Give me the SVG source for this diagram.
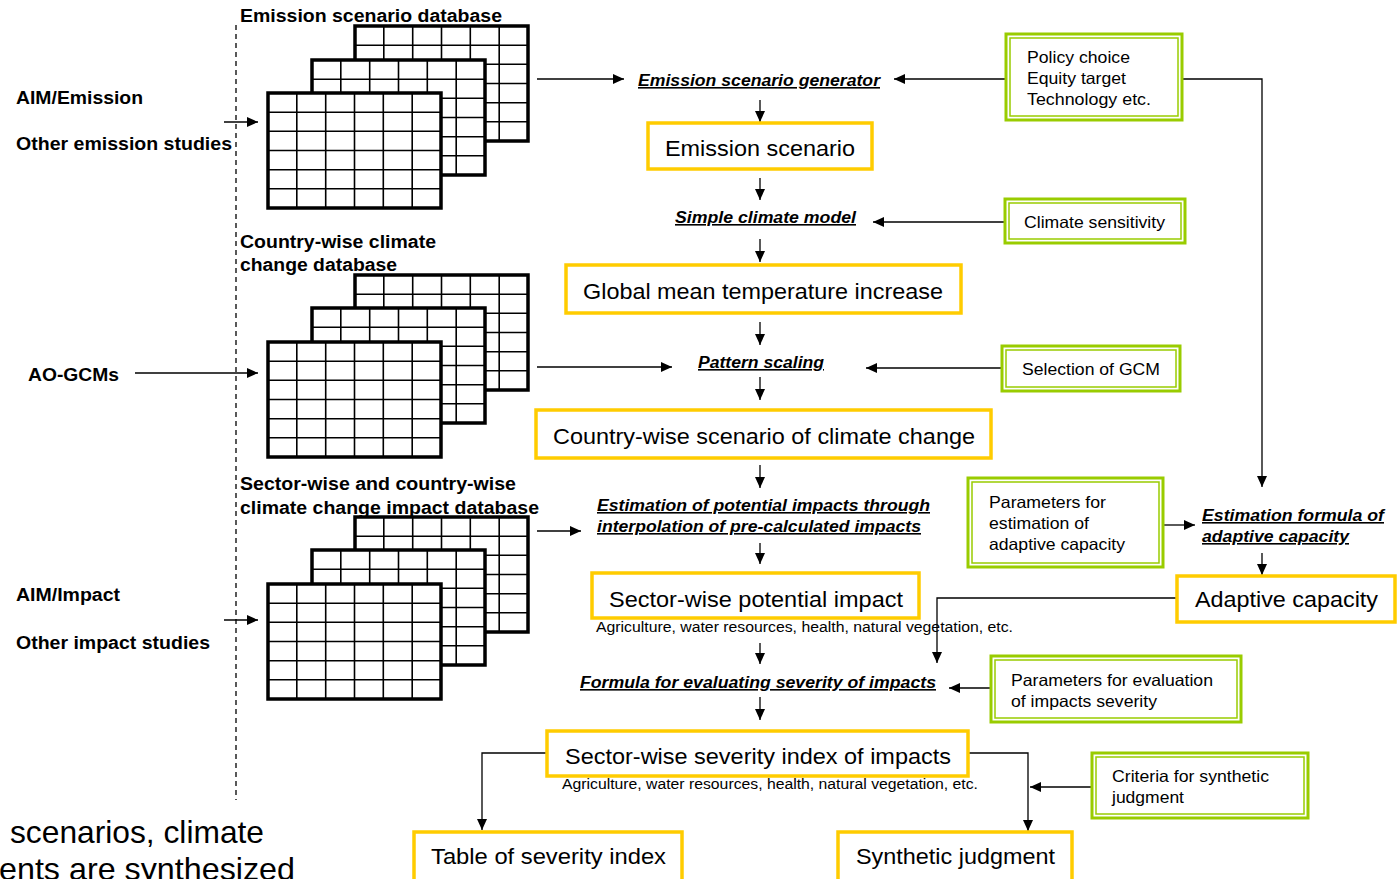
<svg xmlns="http://www.w3.org/2000/svg" width="1399" height="879" viewBox="0 0 1399 879">
<style>
text{font-family:"Liberation Sans",Arial,sans-serif;fill:#000}
.lb{font-weight:bold;font-size:17.5px}
.it{font-weight:bold;font-style:italic;font-size:16px;text-decoration:underline}
.yt{font-size:22px}
.gt{font-size:16.5px}
.sm{font-size:14px}
.big{font-size:32px}
.ybox{fill:#fff;stroke:#ffcc00;stroke-width:3.5}
.go{fill:#fff;stroke:#99cc00;stroke-width:3}
.gi{fill:none;stroke:#99cc00;stroke-width:1.5}
.cn{fill:none;stroke:#000;stroke-width:1.3}
</style>
<defs>
<marker id="ah" markerUnits="userSpaceOnUse" markerWidth="12" markerHeight="10" refX="11" refY="5" orient="auto">
<path d="M0,0 L11,5 L0,10 Z" fill="#000"/>
</marker>
<g id="tbl">
<rect x="0" y="0" width="173" height="115" fill="#fff" stroke="#000" stroke-width="3.5"/>
<path d="M28.8,0V115M57.7,0V115M86.5,0V115M115.3,0V115M144.2,0V115M0,19.2H173M0,38.3H173M0,57.5H173M0,76.7H173M0,95.8H173" stroke="#000" stroke-width="1.6" fill="none"/>
</g>
</defs>

<rect width="1399" height="879" fill="#fff"/>

<g id="connectors">
<line x1="236" y1="25" x2="236" y2="800" stroke="#000" stroke-width="1.3" stroke-dasharray="5,4"/>
<path class="cn" d="M224,122H258" marker-end="url(#ah)"/>
<path class="cn" d="M135,373H258" marker-end="url(#ah)"/>
<path class="cn" d="M224,620H258" marker-end="url(#ah)"/>
<path class="cn" d="M537,79H624" marker-end="url(#ah)"/>
<path class="cn" d="M537,367H672" marker-end="url(#ah)"/>
<path class="cn" d="M537,531H581" marker-end="url(#ah)"/>
<path class="cn" d="M760,100V122" marker-end="url(#ah)"/>
<path class="cn" d="M760,178V200" marker-end="url(#ah)"/>
<path class="cn" d="M760,239V262" marker-end="url(#ah)"/>
<path class="cn" d="M760,322V345" marker-end="url(#ah)"/>
<path class="cn" d="M760,377V400" marker-end="url(#ah)"/>
<path class="cn" d="M760,465V488" marker-end="url(#ah)"/>
<path class="cn" d="M760,543V564" marker-end="url(#ah)"/>
<path class="cn" d="M760,643V664" marker-end="url(#ah)"/>
<path class="cn" d="M760,697V720" marker-end="url(#ah)"/>
<path class="cn" d="M1006,79H894" marker-end="url(#ah)"/>
<path class="cn" d="M1182,79H1262V487" marker-end="url(#ah)"/>
<path class="cn" d="M1005,222H873" marker-end="url(#ah)"/>
<path class="cn" d="M1002,368H866" marker-end="url(#ah)"/>
<path class="cn" d="M1163,525H1195" marker-end="url(#ah)"/>
<path class="cn" d="M1262,553V575" marker-end="url(#ah)"/>
<path class="cn" d="M1177,598H937V663" marker-end="url(#ah)"/>
<path class="cn" d="M991,688H949" marker-end="url(#ah)"/>
<path class="cn" d="M547,753H482V830" marker-end="url(#ah)"/>
<path class="cn" d="M968,753H1028V831" marker-end="url(#ah)"/>
<path class="cn" d="M1092,787H1030" marker-end="url(#ah)"/>
</g>

<g id="db-emission">
<text class="lb" x="240" y="22" textLength="262" lengthAdjust="spacingAndGlyphs">Emission scenario database</text>
<use href="#tbl" x="355" y="26"/>
<use href="#tbl" x="312" y="60"/>
<use href="#tbl" x="268" y="93"/>
</g>
<g id="db-climate">
<text class="lb" x="240" y="248" textLength="196" lengthAdjust="spacingAndGlyphs">Country-wise climate</text>
<text class="lb" x="240" y="271" textLength="157" lengthAdjust="spacingAndGlyphs">change database</text>
<use href="#tbl" x="355" y="275"/>
<use href="#tbl" x="312" y="308"/>
<use href="#tbl" x="268" y="342"/>
</g>
<g id="db-impact">
<use href="#tbl" x="355" y="517"/>
<use href="#tbl" x="312" y="550"/>
<use href="#tbl" x="268" y="584"/>
<text class="lb" x="240" y="490" textLength="276" lengthAdjust="spacingAndGlyphs">Sector-wise and country-wise</text>
<text class="lb" x="240" y="514" textLength="299" lengthAdjust="spacingAndGlyphs">climate change impact database</text>
</g>

<g id="src-emission">
<text class="lb" x="16" y="104" textLength="127" lengthAdjust="spacingAndGlyphs">AIM/Emission</text>
<text class="lb" x="16" y="150" textLength="216" lengthAdjust="spacingAndGlyphs">Other emission studies</text>
</g>
<g id="src-gcm">
<text class="lb" x="28" y="381" textLength="91" lengthAdjust="spacingAndGlyphs">AO-GCMs</text>
</g>
<g id="src-impact">
<text class="lb" x="16" y="601" textLength="104" lengthAdjust="spacingAndGlyphs">AIM/Impact</text>
<text class="lb" x="16" y="649" textLength="194" lengthAdjust="spacingAndGlyphs">Other impact studies</text>
</g>

<g id="p-generator"><text class="it" x="638" y="86" textLength="242" lengthAdjust="spacingAndGlyphs">Emission scenario generator</text></g>
<g id="n-emission"><rect class="ybox" x="648" y="123" width="224" height="46"/><text class="yt" x="665" y="156" textLength="190" lengthAdjust="spacingAndGlyphs">Emission scenario</text></g>
<g id="p-simple"><text class="it" x="675" y="223" textLength="181" lengthAdjust="spacingAndGlyphs">Simple climate model</text></g>
<g id="n-gmt"><rect class="ybox" x="566" y="265" width="395" height="48"/><text class="yt" x="583" y="299" textLength="360" lengthAdjust="spacingAndGlyphs">Global mean temperature increase</text></g>
<g id="p-pattern"><text class="it" x="698" y="368" textLength="126" lengthAdjust="spacingAndGlyphs">Pattern scaling</text></g>
<g id="n-country"><rect class="ybox" x="536" y="410" width="455" height="48"/><text class="yt" x="553" y="444" textLength="422" lengthAdjust="spacingAndGlyphs">Country-wise scenario of climate change</text></g>
<g id="p-estimation">
<text class="it" x="597" y="511" textLength="333" lengthAdjust="spacingAndGlyphs">Estimation of potential impacts through</text>
<text class="it" x="597" y="532" textLength="324" lengthAdjust="spacingAndGlyphs">interpolation of pre-calculated impacts</text>
</g>
<g id="n-potential"><rect class="ybox" x="592" y="573" width="327" height="45"/><text class="yt" x="609" y="607" textLength="294" lengthAdjust="spacingAndGlyphs">Sector-wise potential impact</text>
<text class="sm" x="596" y="632" textLength="417" lengthAdjust="spacingAndGlyphs">Agriculture, water resources, health, natural vegetation, etc.</text></g>
<g id="p-formula"><text class="it" x="580" y="688" textLength="356" lengthAdjust="spacingAndGlyphs">Formula for evaluating severity of impacts</text></g>
<g id="n-severity"><rect class="ybox" x="547" y="731" width="421" height="45"/><text class="yt" x="565" y="764" textLength="386" lengthAdjust="spacingAndGlyphs">Sector-wise severity index of impacts</text>
<text class="sm" x="562" y="789" textLength="416" lengthAdjust="spacingAndGlyphs">Agriculture, water resources, health, natural vegetation, etc.</text></g>
<g id="n-table"><rect class="ybox" x="414" y="832" width="268" height="50"/><text class="yt" x="431" y="864" textLength="235" lengthAdjust="spacingAndGlyphs">Table of severity index</text></g>
<g id="n-synthetic"><rect class="ybox" x="838" y="832" width="234" height="50"/><text class="yt" x="856" y="864" textLength="199" lengthAdjust="spacingAndGlyphs">Synthetic judgment</text></g>

<g id="g-policy"><rect class="go" x="1006" y="34" width="176" height="86"/><rect class="gi" x="1010" y="38" width="168" height="78"/>
<text class="gt" x="1027" y="63" textLength="103" lengthAdjust="spacingAndGlyphs">Policy choice</text>
<text class="gt" x="1027" y="84" textLength="99" lengthAdjust="spacingAndGlyphs">Equity target</text>
<text class="gt" x="1027" y="105" textLength="124" lengthAdjust="spacingAndGlyphs">Technology etc.</text></g>
<g id="g-sensitivity"><rect class="go" x="1005" y="199" width="180" height="44"/><rect class="gi" x="1009" y="203" width="172" height="36"/>
<text class="gt" x="1024" y="228" textLength="141" lengthAdjust="spacingAndGlyphs">Climate sensitivity</text></g>
<g id="g-gcm"><rect class="go" x="1002" y="346" width="178" height="45"/><rect class="gi" x="1006" y="350" width="170" height="37"/>
<text class="gt" x="1022" y="375" textLength="138" lengthAdjust="spacingAndGlyphs">Selection of GCM</text></g>
<g id="g-adaptparam"><rect class="go" x="968" y="478" width="195" height="89"/><rect class="gi" x="972" y="482" width="187" height="81"/>
<text class="gt" x="989" y="508" textLength="117" lengthAdjust="spacingAndGlyphs">Parameters for</text>
<text class="gt" x="989" y="529" textLength="100" lengthAdjust="spacingAndGlyphs">estimation of</text>
<text class="gt" x="989" y="550" textLength="136" lengthAdjust="spacingAndGlyphs">adaptive capacity</text></g>
<g id="p-adaptformula">
<text class="it" x="1202" y="521" textLength="182" lengthAdjust="spacingAndGlyphs">Estimation formula of</text>
<text class="it" x="1202" y="542" textLength="147" lengthAdjust="spacingAndGlyphs">adaptive capacity</text></g>
<g id="n-adaptive"><rect class="ybox" x="1177" y="576" width="218" height="46"/><text class="yt" x="1195" y="607" textLength="183" lengthAdjust="spacingAndGlyphs">Adaptive capacity</text></g>
<g id="g-evalparam"><rect class="go" x="991" y="656" width="250" height="66"/><rect class="gi" x="995" y="660" width="242" height="58"/>
<text class="gt" x="1011" y="686" textLength="202" lengthAdjust="spacingAndGlyphs">Parameters for evaluation</text>
<text class="gt" x="1011" y="707" textLength="146" lengthAdjust="spacingAndGlyphs">of impacts severity</text></g>
<g id="g-criteria"><rect class="go" x="1092" y="753" width="216" height="65"/><rect class="gi" x="1096" y="757" width="208" height="57"/>
<text class="gt" x="1112" y="782" textLength="157" lengthAdjust="spacingAndGlyphs">Criteria for synthetic</text>
<text class="gt" x="1112" y="803" textLength="72" lengthAdjust="spacingAndGlyphs">judgment</text></g>

<g id="caption">
<text class="big" x="10" y="843" textLength="254" lengthAdjust="spacingAndGlyphs">scenarios, climate</text>
<text class="big" x="-1" y="880" textLength="296" lengthAdjust="spacingAndGlyphs">ents are synthesized</text>
</g>
</svg>
